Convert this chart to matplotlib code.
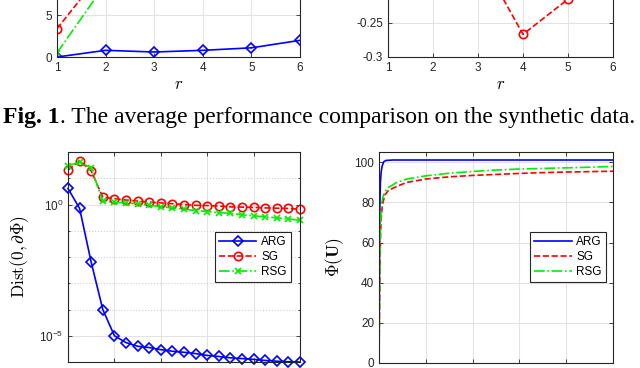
import numpy as np
import matplotlib
matplotlib.use("Agg")
import matplotlib.pyplot as plt
from matplotlib.ticker import FixedLocator, NullFormatter

plt.rcParams["font.family"] = ["Liberation Sans", "DejaVu Sans"]
plt.rcParams["mathtext.fontset"] = "custom"
plt.rcParams["mathtext.rm"] = "Liberation Sans"
plt.rcParams["mathtext.it"] = "Liberation Sans:italic"
plt.rcParams["mathtext.bf"] = "Liberation Sans:bold"

# ---- data: top row (vs r) ----
r_vals = [1, 2, 3, 4, 5, 6]
top_arg = [0.0, 0.8, 0.6, 0.8, 1.1, 2.0]
top_sg = [3.4, 10.7, 12.0, 13.0, 14.0, 14.5]
top_rsg = [0.5, 8.8, 11.0, 12.0, 13.0, 14.0]
top_right_sg = [-0.12, -0.13, -0.15, -0.267, -0.216, -0.20]

# ---- data: bottom-left (log10 of Dist) ----
it_idx = list(range(21))
log_arg = [0.61, -0.15, -2.2, -4.0, -5.0, -5.26, -5.4, -5.45, -5.53, -5.59, -5.63,
           -5.68, -5.75, -5.79, -5.84, -5.87, -5.9, -5.94, -5.97, -5.99, -6.0]
log_sg = [1.31, 1.66, 1.28, 0.28, 0.22, 0.17, 0.13, 0.09, 0.06, 0.03, 0.0,
          -0.03, -0.04, -0.06, -0.09, -0.10, -0.11, -0.13, -0.14, -0.15, -0.18]
log_rsg = [1.47, 1.62, 1.39, 0.13, 0.09, 0.06, 0.03, -0.03, -0.08, -0.13, -0.18,
           -0.23, -0.27, -0.31, -0.34, -0.39, -0.43, -0.47, -0.51, -0.55, -0.60]

# ---- data: bottom-right (Phi(U) vs iterations) ----
arg_x = [0, 2, 4, 6, 9, 13, 20, 30, 60, 1000]
arg_y = [0, 50, 80, 90, 95, 98, 100.3, 101.0, 101.2, 101.2]
sg_x = [0, 2, 4, 7, 10, 15, 25, 40, 76, 118, 200, 300, 400, 500, 600, 700, 800, 900, 1000]
sg_y = [0, 25, 50, 66, 73, 79, 83.7, 86, 88, 90, 91.7, 92.8, 93.5, 94, 94.5, 94.9, 95.2, 95.4, 95.6]
rsg_y = [0, 30, 57, 70, 77, 82, 85.5, 87.5, 90, 91.7, 93.3, 94.6, 95.5, 96.2, 96.7, 97, 97.3, 97.6, 98]

labels = ["ARG", "SG", "RSG"]
BLUE, RED, GREEN = "#0000ff", "#ff0000", "#00ee00"
EDGE = "#262626"
GRID = "#e3e3e3"
LW = 1.2


def style_axes(ax):
    for s in ax.spines.values():
        s.set_color(EDGE)
        s.set_linewidth(0.8)
    ax.tick_params(direction="in", top=True, right=True, colors=EDGE,
                   labelsize=8.5, length=3, width=0.6)
    ax.tick_params(which="minor", direction="in", top=True, right=True,
                   colors=EDGE, length=1.5)
    ax.grid(True, which="major", color=GRID, linewidth=0.8)
    ax.set_axisbelow(True)


def add_legend(ax, anchor):
    leg = ax.legend(labels, loc="upper right", bbox_to_anchor=anchor,
                    borderaxespad=0, fontsize=8.5, numpoints=1,
                    handlelength=3.2, handletextpad=0.4, borderpad=0.35,
                    labelspacing=0.25, fancybox=False, framealpha=1)
    leg.get_frame().set_edgecolor(EDGE)
    leg.get_frame().set_linewidth(0.8)


fig = plt.figure(figsize=(6.4, 3.68), dpi=100)

# top-left
ax1 = fig.add_axes([57 / 640, 1 - 57 / 368, 243 / 640, 125 / 368])
ax1.plot(r_vals, top_arg, "-", color=BLUE, lw=LW, marker="D", ms=5.5, mfc="none", mew=1.2)
ax1.plot(r_vals, top_sg, "--", color=RED, lw=LW, marker="o", ms=6, mfc="none", mew=1.2)
ax1.plot(r_vals, top_rsg, "-.", color=GREEN, lw=LW, marker="x", ms=4, mew=1.2)
ax1.set_xlim(1, 6)
ax1.set_ylim(0, 15)
ax1.set_xticks(r_vals)
ax1.set_yticks([0, 5])
style_axes(ax1)
ax1.set_xlabel("$r$", math_fontfamily="cm", fontsize=12, labelpad=2)

# top-right
ax2 = fig.add_axes([388 / 640, 1 - 57 / 368, 225 / 640, 137.6 / 368])
ax2.plot(r_vals, top_right_sg, "--", color=RED, lw=LW, marker="o", ms=6, mfc="none", mew=1.2)
ax2.set_xlim(1, 6)
ax2.set_ylim(-0.3, -0.1)
ax2.set_xticks(r_vals)
ax2.set_yticks([-0.3, -0.25])
ax2.set_yticklabels(["-0.3", "-0.25"])
style_axes(ax2)
ax2.set_xlabel("$r$", math_fontfamily="cm", fontsize=12, labelpad=2)

# caption: bold "Fig. 1" followed by the regular text
cap_y = 1 - 118 / 368
t_bold = fig.text(3 / 640, cap_y, "Fig. 1", fontsize=17.0, fontweight="bold",
                  family="Liberation Serif", va="center", ha="left")
renderer = fig.canvas.get_renderer()
bb = t_bold.get_window_extent(renderer)
fig.text(bb.x1 / 640, cap_y, ". The average performance comparison on the synthetic data.",
         fontsize=17.0, family="Liberation Serif", va="center", ha="left")

# bottom-left (log)
ax3 = fig.add_axes([68 / 640, 6 / 368, 232 / 640, 210 / 368])
ax3.semilogy(it_idx, 10 ** np.array(log_arg), "-", color=BLUE, lw=LW,
             marker="D", ms=5.5, mfc="none", mew=1.2)
ax3.semilogy(it_idx, 10 ** np.array(log_sg), "--", color=RED, lw=LW,
             marker="o", ms=6, mfc="none", mew=1.2)
ax3.semilogy(it_idx, 10 ** np.array(log_rsg), "-.", color=GREEN, lw=LW,
             marker="x", ms=4, mew=1.2)
ax3.set_xlim(0, 20)
ax3.set_ylim(1e-6, 1e2)
ax3.set_xticks([0, 4, 8, 12, 16, 20])
ax3.yaxis.set_major_locator(FixedLocator([1e-5, 1e0]))
ax3.yaxis.set_minor_locator(FixedLocator([10.0 ** k for k in range(-6, 3)]))
ax3.yaxis.set_minor_formatter(NullFormatter())
ax3.set_yticklabels(["$10^{-5}$", "$10^{0}$"])
style_axes(ax3)
ax3.tick_params(labelbottom=False)
ax3.grid(True, which="minor", axis="y", color="#cfcfcf", linestyle=":", linewidth=0.8)
for c in ax3.get_lines()[:3]:
    c.set_clip_on(False)
ax3.set_ylabel(r"$\mathrm{Dist}(\mathbf{0},\partial\Phi)$", math_fontfamily="cm",
               fontsize=12.5, labelpad=6)
add_legend(ax3, (0.961, 0.619))

# bottom-right
ax4 = fig.add_axes([379 / 640, 5.3 / 368, 234 / 640, 210.3 / 368])
ax4.plot(arg_x, arg_y, "-", color=BLUE, lw=LW)
ax4.plot(sg_x, sg_y, "--", color=RED, lw=LW)
ax4.plot(sg_x, rsg_y, "-.", color=GREEN, lw=LW)
ax4.set_xlim(0, 1000)
ax4.set_ylim(0, 105)
ax4.set_xticks([0, 200, 400, 600, 800, 1000])
ax4.set_yticks([0, 20, 40, 60, 80, 100])
style_axes(ax4)
ax4.tick_params(labelbottom=False)
ax4.set_ylabel(r"$\Phi(\mathbf{U})$", math_fontfamily="cm", fontsize=12.5, labelpad=6)
add_legend(ax4, (0.970, 0.621))

fig.savefig("out.png", dpi=100)
